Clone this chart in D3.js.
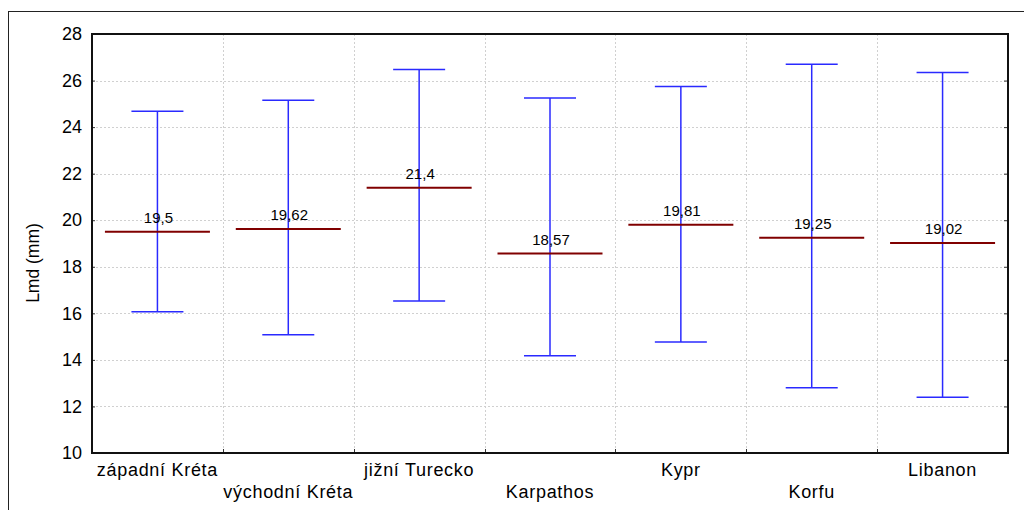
<!DOCTYPE html>
<html>
<head>
<meta charset="utf-8">
<script src="https://cdn.jsdelivr.net/npm/d3@7"></script>
<style>
  body { margin: 0; background: #fff; }
  text { font-family: "Liberation Sans", Arial, sans-serif; }
</style>
</head>
<body>
<svg id="chart" width="1024" height="510"></svg>
<script>
// chart data
var categories = ["západní Kréta", "východní Kréta", "jižní Turecko", "Karpathos", "Kypr", "Korfu", "Libanon"];
var means = [19.5, 19.62, 21.4, 18.57, 19.81, 19.25, 19.02];
var upper = [24.68, 25.15, 26.48, 25.25, 25.75, 26.7, 26.35];
var lower = [16.07, 15.08, 16.53, 14.18, 14.77, 12.8, 12.4];
var yTicks = [10, 12, 14, 16, 18, 20, 22, 24, 26, 28];

// plot area (note: "top" is taken by window.top)
var pLeft = 92, pTop = 34, pRight = 1008, pBottom = 453;

var svg = d3.select("#chart");

// outer frame (runs off the picture at right/bottom)
svg.append("rect")
  .attr("x", 8.5).attr("y", 11.5)
  .attr("width", 1030).attr("height", 520)
  .attr("fill", "none").attr("stroke", "#222").attr("stroke-width", 1);

var x = d3.scaleBand().domain(categories).range([pLeft, pRight]).padding(0);
var y = d3.scaleLinear().domain([10, 28]).range([pBottom, pTop]);

// grid
var grid = svg.append("g");
grid.selectAll("line.h")
  .data(yTicks.slice(1, -1))
  .enter().append("line")
  .attr("x1", pLeft).attr("x2", pRight)
  .attr("y1", d => Math.round(y(d)) + 0.5).attr("y2", d => Math.round(y(d)) + 0.5)
  .attr("stroke", "#d0d0d0").attr("stroke-dasharray", "2,2");
grid.selectAll("line.v")
  .data(categories.slice(1))
  .enter().append("line")
  .attr("x1", d => Math.round(x(d)) + 0.5).attr("x2", d => Math.round(x(d)) + 0.5)
  .attr("y1", pTop).attr("y2", pBottom)
  .attr("stroke", "#d0d0d0").attr("stroke-dasharray", "2,2");

// axes: labels on the left, small inward ticks on both sides
var yAxis = d3.axisLeft(y).tickValues(yTicks).tickSize(0).tickPadding(10);
var gy = svg.append("g").attr("transform", "translate(" + pLeft + ",0)").call(yAxis);
gy.select(".domain").remove();
gy.selectAll("text").attr("font-size", 18).attr("fill", "#000");

var gyl = svg.append("g").attr("transform", "translate(" + pLeft + ",0)")
  .call(d3.axisRight(y).tickValues(yTicks).tickSize(3).tickFormat(""));
gyl.select(".domain").remove();
gyl.selectAll("line").attr("stroke", "#333");

var gyr = svg.append("g").attr("transform", "translate(" + pRight + ",0)")
  .call(d3.axisLeft(y).tickValues(yTicks).tickSize(4).tickFormat(""));
gyr.select(".domain").remove();
gyr.selectAll("line").attr("stroke", "#333");

svg.append("g").selectAll("line")
  .data(categories.slice(1))
  .enter().append("line")
  .attr("x1", d => Math.round(x(d)) + 0.5).attr("x2", d => Math.round(x(d)) + 0.5)
  .attr("y1", pBottom).attr("y2", pBottom - 4)
  .attr("stroke", "#333");

// x labels, staggered
svg.append("g").selectAll("text")
  .data(categories)
  .enter().append("text")
  .attr("x", d => x(d) + x.bandwidth() / 2)
  .attr("y", (d, i) => i % 2 == 0 ? 476 : 498)
  .attr("text-anchor", "middle")
  .attr("font-size", 18)
  .attr("letter-spacing", 0.7)
  .text(d => d);

// plot frame
svg.append("rect")
  .attr("x", pLeft).attr("y", pTop)
  .attr("width", pRight - pLeft).attr("height", pBottom - pTop)
  .attr("fill", "none").attr("stroke", "#111").attr("stroke-width", 2);

// y title
svg.append("text")
  .attr("transform", "translate(39,263) rotate(-90)")
  .attr("text-anchor", "middle")
  .attr("font-size", 17.5)
  .text("Lmd (mm)");

// error bars
var data = categories.map((c, i) => ({cat: c, mean: means[i], hi: upper[i], lo: lower[i]}));
var cx = d => x(d.cat) + x.bandwidth() / 2;
var bars = svg.append("g").selectAll("g").data(data).enter().append("g");
bars.append("line")
  .attr("x1", cx).attr("x2", cx)
  .attr("y1", d => y(d.hi)).attr("y2", d => y(d.lo))
  .attr("stroke", "#2a2aff").attr("stroke-width", 1.5);
bars.append("line")
  .attr("x1", d => cx(d) - 26).attr("x2", d => cx(d) + 26)
  .attr("y1", d => y(d.hi)).attr("y2", d => y(d.hi))
  .attr("stroke", "#2a2aff").attr("stroke-width", 1.5);
bars.append("line")
  .attr("x1", d => cx(d) - 26).attr("x2", d => cx(d) + 26)
  .attr("y1", d => y(d.lo)).attr("y2", d => y(d.lo))
  .attr("stroke", "#2a2aff").attr("stroke-width", 1.5);
bars.append("line")
  .attr("x1", d => cx(d) - 52.5).attr("x2", d => cx(d) + 52.5)
  .attr("y1", d => y(d.mean)).attr("y2", d => y(d.mean))
  .attr("stroke", "#800000").attr("stroke-width", 2);
bars.append("text")
  .attr("x", d => cx(d) + 1)
  .attr("y", d => y(d.mean) - 9)
  .attr("text-anchor", "middle")
  .attr("font-size", 15)
  .text(d => String(d.mean).replace(".", ","));
</script>
</body>
</html>
